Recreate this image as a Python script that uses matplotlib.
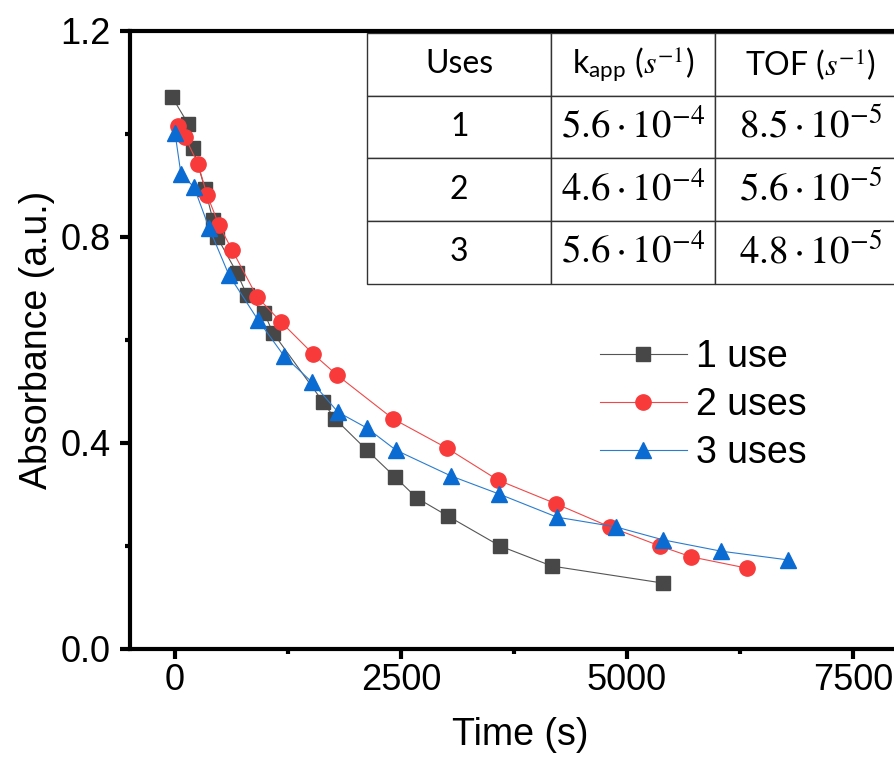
import numpy as np
import matplotlib
matplotlib.use("Agg")
from matplotlib import pyplot as plt
from matplotlib.ticker import MultipleLocator

plt.rcParams['font.family'] = ['Liberation Sans', 'DejaVu Sans']
plt.rcParams['mathtext.fontset'] = 'custom'
plt.rcParams['mathtext.rm'] = 'STIXGeneral'
plt.rcParams['mathtext.it'] = 'STIXGeneral:italic'
plt.rcParams['mathtext.sf'] = 'Lato'

# data
t1 = [-33, 144, 199, 332, 420, 465, 686, 796, 985, 1084, 1637, 1770, 2124, 2434, 2677, 3020, 3595, 4170, 5398]
a1 = [1.072, 1.020, 0.973, 0.893, 0.833, 0.800, 0.730, 0.687, 0.653, 0.614, 0.480, 0.447, 0.386, 0.334, 0.293, 0.258, 0.200, 0.161, 0.128]

t2 = [33, 111, 254, 354, 487, 631, 907, 1173, 1527, 1792, 2412, 3009, 3573, 4215, 4812, 5365, 5708, 6327]
a2 = [1.016, 0.994, 0.942, 0.882, 0.823, 0.775, 0.684, 0.635, 0.573, 0.532, 0.447, 0.390, 0.328, 0.282, 0.237, 0.200, 0.179, 0.157]

t3 = [0, 66, 210, 376, 597, 918, 1206, 1516, 1803, 2124, 2445, 3053, 3584, 4226, 4878, 5398, 6040, 6781]
a3 = [1.002, 0.922, 0.897, 0.818, 0.726, 0.639, 0.569, 0.518, 0.460, 0.429, 0.386, 0.336, 0.301, 0.256, 0.237, 0.212, 0.190, 0.173]

labels = ['1 use', '2 uses', '3 uses']

table_header = ['Uses', r'k$_{\mathsf{app}}$ ($s^{-1}$)', r'TOF ($s^{-1}$)']
table_uses = ['1', '2', '3']
table_kapp = [r'$5.6\cdot10^{-4}$', r'$4.6\cdot10^{-4}$', r'$5.6\cdot10^{-4}$']
table_tof = [r'$8.5\cdot10^{-5}$', r'$5.6\cdot10^{-5}$', r'$4.8\cdot10^{-5}$']

fig = plt.figure(figsize=(8.95, 7.65), dpi=100)
W, H = 895, 765
ax = fig.add_axes([130 / W, (H - 649) / H, 780 / W, 618 / H])

ax.plot(t1, a1, '-s', color='#555555', mfc='#474747', mec='#474747', lw=0.8, ms=10, label=labels[0])
ax.plot(t2, a2, '-o', color='#f04848', mfc='#f83a3a', mec='#f83a3a', lw=0.8, ms=11, label=labels[1])
ax.plot(t3, a3, '-^', color='#2a7cd0', mfc='#0a6bd2', mec='#0a6bd2', lw=0.8, ms=12, label=labels[2])

ax.set_xlim(-498, 8131)
ax.set_ylim(0, 1.2)
ax.xaxis.set_major_locator(MultipleLocator(2500))
ax.xaxis.set_minor_locator(MultipleLocator(1250))
ax.yaxis.set_major_locator(MultipleLocator(0.4))
ax.yaxis.set_minor_locator(MultipleLocator(0.2))
ax.yaxis.set_major_formatter(matplotlib.ticker.FormatStrFormatter('%.1f'))

for s in ['left', 'bottom', 'top']:
    ax.spines[s].set_linewidth(3)
ax.spines['right'].set_visible(False)
ax.tick_params(which='major', length=7, width=3, labelsize=26, direction='out')
ax.tick_params(which='minor', length=3.5, width=3, direction='out')
ax.tick_params(axis='x', which='major', pad=3)
ax.tick_params(axis='y', which='major', pad=7)
ax.tick_params(top=False, right=False)

ax.set_xlabel('Time (s)', fontsize=27, labelpad=14)
ax.set_ylabel('Absorbance (a.u.)', fontsize=27, labelpad=4)

ax.legend(loc='center left', bbox_to_anchor=(0.603, 0.395), frameon=False,
          fontsize=27, handlelength=2.3, handletextpad=0.25, labelspacing=0.32,
          borderpad=0, borderaxespad=0)

cells = [[u, k, t] for u, k, t in zip(table_uses, table_kapp, table_tof)]
tab = ax.table(cellText=cells, colLabels=table_header, cellLoc='center',
               colWidths=[184, 164, 190], bbox=[0.304, 0.591, 0.690, 0.406])
tab.auto_set_font_size(False)
for (r, c), cell in tab.get_celld().items():
    cell.set_edgecolor('#333333')
    cell.set_linewidth(1.0)
    cell.set_facecolor('white')
    txt = cell.get_text()
    if r == 0 or c == 0:
        txt.set_fontfamily('Lato')
        txt.set_fontsize(23)
    else:
        txt.set_fontsize(28)
tab.set_clip_on(False)

fig.savefig('out.png', dpi=100)
